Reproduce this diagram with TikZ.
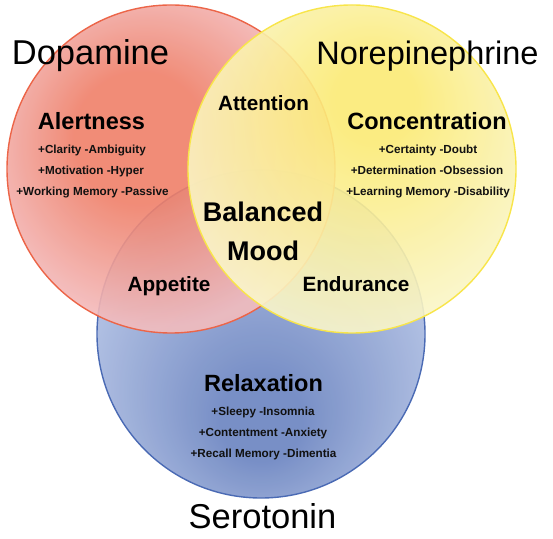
\documentclass[tikz,border=0pt]{standalone}
\usepackage{fontspec}
\setmainfont{Liberation Sans}
\definecolor{redin}{HTML}{EF7F68}
\definecolor{redout}{HTML}{F3BCBE}
\definecolor{redline}{HTML}{EC6548}
\definecolor{yelin}{HTML}{FBEA74}
\definecolor{yelout}{HTML}{FAF6CC}
\definecolor{yelline}{HTML}{F8E54A}
\definecolor{bluin}{HTML}{6C85C1}
\definecolor{bluout}{HTML}{BAC8E8}
\definecolor{bluline}{HTML}{4A6AB4}
\definecolor{txt}{HTML}{111111}
\pgfdeclareradialshading{redsh}{\pgfpoint{-6bp}{6bp}}{color(0bp)=(redin); color(10bp)=(redin); color(27bp)=(redout); color(50bp)=(redout)}
\pgfdeclareradialshading{yelsh}{\pgfpoint{4bp}{12bp}}{color(0bp)=(yelin); color(6bp)=(yelin); color(30bp)=(yelout); color(50bp)=(yelout)}
\pgfdeclareradialshading{blush}{\pgfpoint{0bp}{-15bp}}{color(0bp)=(bluin); color(6bp)=(bluin); color(32bp)=(bluout); color(50bp)=(bluout)}
\tikzset{
  title/.style={anchor=base, inner sep=0pt, font=\fontsize{34.5}{40}\selectfont},
  head/.style={anchor=base, inner sep=0pt, font=\bfseries\fontsize{23.5}{28}\selectfont},
  mid/.style={anchor=base, inner sep=0pt, font=\bfseries\fontsize{20.7}{24}\selectfont},
  big/.style={anchor=base, inner sep=0pt, font=\bfseries\fontsize{27}{32}\selectfont},
  small/.style={anchor=base, inner sep=0pt, text=txt, font=\bfseries\fontsize{11.7}{14}\selectfont},
}
\begin{document}
\begin{tikzpicture}[x=1pt,y=1pt]
\useasboundingbox (0,0) rectangle (553,538);
% circles
\shade[shading=blush, fill opacity=0.92, draw=bluline, line width=1.4pt] (261,204) circle (164);
\shade[shading=redsh, fill opacity=0.9, draw=redline, line width=1.4pt] (171,369) circle (164);
\shade[shading=yelsh, fill opacity=0.9, draw=yelline, line width=1.4pt] (352,369) circle (164);
% titles
\node[title] (dop) at (90.5,473) {Dopamine};
\node[title, font=\fontsize{32.5}{38}\selectfont] (nor) at (427.5,473) {Norepinephrine};
\node[title] (ser) at (262.5,10) {Serotonin};
% dopamine
\node[head] (alert) at (91.5,408) {Alertness};
\node[small] (a1) at (92,384) {+Clarity -Ambiguity};
\node[small] (a2) at (91,363) {+Motivation -Hyper};
\node[small] (a3) at (92.5,342) {+Working Memory -Passive};
% norepinephrine
\node[head] (conc) at (427,408) {Concentration};
\node[small] (c1) at (428,384) {+Certainty -Doubt};
\node[small] (c2) at (427,363) {+Determination -Obsession};
\node[small] (c3) at (428,342) {+Learning Memory -Disability};
% overlaps
\node[mid] (att) at (263.5,427) {Attention};
\node[big] (bal) at (263,316) {Balanced};
\node[big] (mood) at (263,277) {Mood};
\node[mid] (app) at (169,246) {Appetite};
\node[mid] (end) at (356,246) {Endurance};
% serotonin
\node[head] (rel) at (263.5,147) {Relaxation};
\node[small] (r1) at (263,123) {+Sleepy -Insomnia};
\node[small] (r2) at (263,102) {+Contentment -Anxiety};
\node[small] (r3) at (263.5,81) {+Recall Memory -Dimentia};
\end{tikzpicture}
\end{document}
